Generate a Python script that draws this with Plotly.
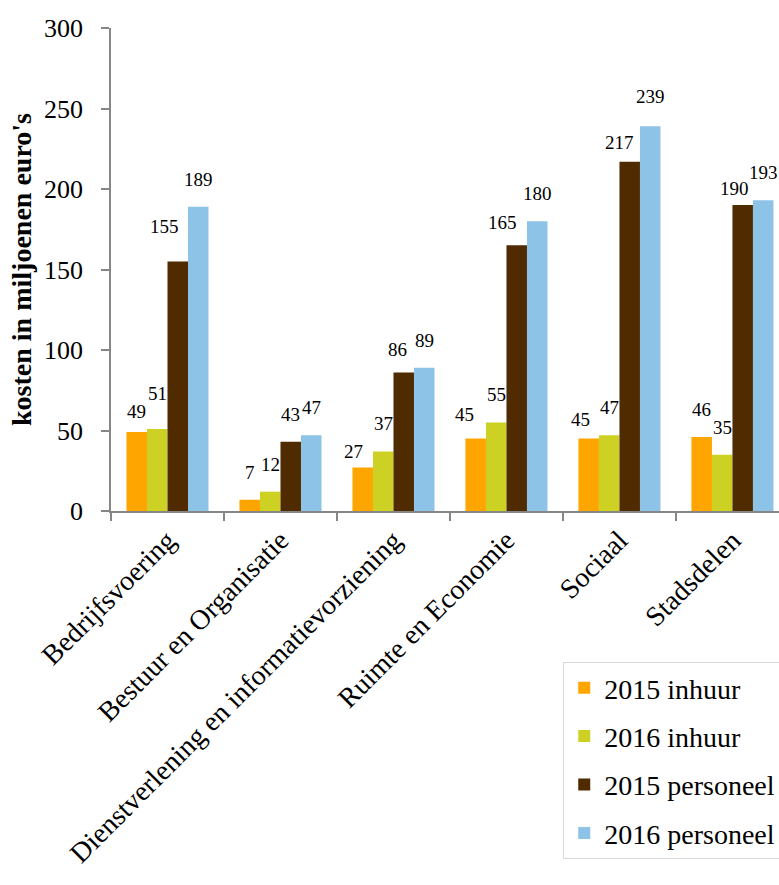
import plotly.graph_objects as go

categories = ["Bedrijfsvoering", "Bestuur en Organisatie",
              "Dienstverlening en informatievorziening", "Ruimte en Economie",
              "Sociaal", "Stadsdelen"]
inhuur_2015 = [49, 7, 27, 45, 45, 46]
inhuur_2016 = [51, 12, 37, 55, 47, 35]
personeel_2015 = [155, 43, 86, 165, 217, 190]
personeel_2016 = [189, 47, 89, 180, 239, 193]

series_names = ["2015 inhuur", "2016 inhuur", "2015 personeel", "2016 personeel"]
series_values = [inhuur_2015, inhuur_2016, personeel_2015, personeel_2016]
colors = ["#FFA500", "#CCD123", "#512B00", "#8EC3E8"]

# label nudges in pixels (series index, category index) -> (dx, dy)
label_nudge = {
    (0, 0): (0, -7), (1, 0): (0, 8), (2, 0): (-13, 7),
    (0, 2): (-9, -11), (2, 2): (-6, -4),
    (0, 3): (-11, -3), (2, 3): (-14, -5),
    (0, 4): (-8, -8), (2, 4): (-10, -8), (3, 4): (0, 2),
    (2, 5): (-8, -11),
}

FONT = "Liberation Serif, serif"
W, H = 779, 885
ML, MR, MT, MB = 111, 0, 28, 374
BARGAP = 0.274
XR = [-0.5, 5.412]

fig = go.Figure()
for name, vals, col in zip(series_names, series_values, colors):
    fig.add_trace(go.Bar(
        x=categories, y=vals, name=name, marker_color=col,
        marker_line_width=0, legendgroup=name,
    ))

px_per_unit = (W - ML - MR) / (XR[1] - XR[0])
bar_w = px_per_unit * (1 - BARGAP) / 4
annotations = []
for j, vals in enumerate(series_values):
    for k, (c, v) in enumerate(zip(categories, vals)):
        dx, dy = label_nudge.get((j, k), (0, 0))
        annotations.append(dict(
            x=c, y=v, xref="x", yref="y", text=str(v), showarrow=False,
            xanchor="center", yanchor="bottom", xshift=(j - 1.5) * bar_w + dx,
            yshift=15 + dy, font=dict(family=FONT, size=19, color="#000000"),
        ))

fig.update_layout(
    width=W, height=H,
    margin=dict(l=ML, r=MR, t=MT, b=MB, autoexpand=False),
    paper_bgcolor="white", plot_bgcolor="white",
    barmode="group", bargap=BARGAP, bargroupgap=0,
    font=dict(family=FONT, color="#000000"),
    annotations=annotations,
    legend=dict(
        x=0.677, xanchor="left", y=-0.3126, yanchor="top",
        bordercolor="#D9D9D9", borderwidth=1, bgcolor="white",
        font=dict(family=FONT, size=28, color="#000000"),
        tracegroupgap=9, orientation="v",
    ),
    showlegend=True,
)
fig.update_xaxes(
    type="category", range=XR, tickson="boundaries",
    showline=True, linecolor="#868686", linewidth=1.5,
    ticks="outside", ticklen=8, tickcolor="#868686", tickwidth=1.5,
    tickangle=-45, tickfont=dict(family=FONT, size=28, color="#000000"),
    showgrid=False, zeroline=False, automargin=False,
)
fig.update_yaxes(
    range=[0, 300], dtick=50, tick0=0,
    showline=True, linecolor="#868686", linewidth=1.5,
    ticks="outside", ticklen=8, tickcolor="#868686", tickwidth=1.5,
    tickfont=dict(family=FONT, size=26, color="#000000"),
    ticklabelstandoff=13,
    showgrid=False, zeroline=False, automargin=False,
    title=dict(text="<b>kosten in miljoenen euro's</b>", standoff=4,
               font=dict(family=FONT, size=28, color="#000000")),
)

fig.write_html("out.html")
